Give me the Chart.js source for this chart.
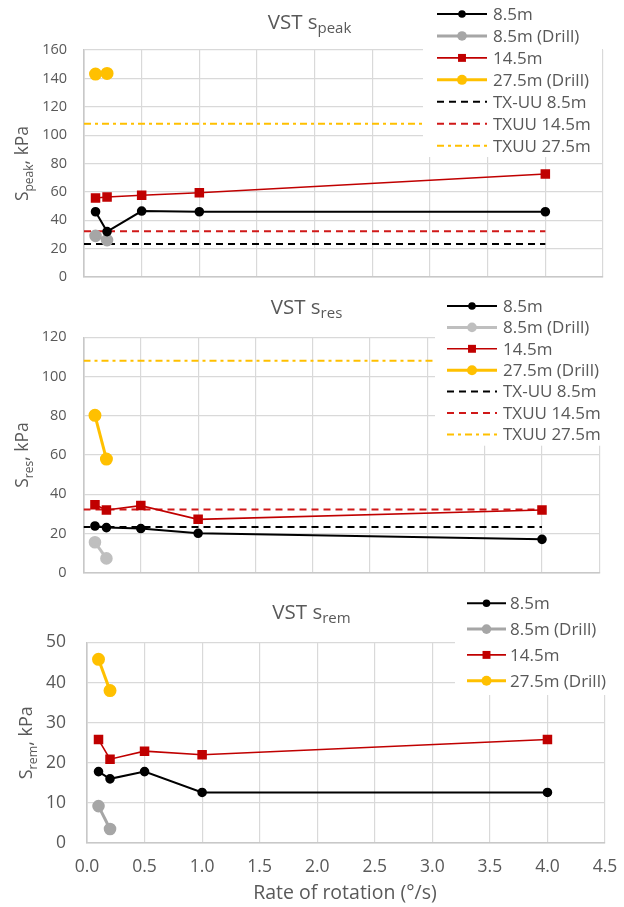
<!DOCTYPE html>
<html>
<head>
<meta charset="utf-8">
<script src="https://cdn.jsdelivr.net/npm/chart.js@4/dist/chart.umd.min.js"></script>
<style>
  html, body { margin: 0; padding: 0; background: #ffffff; }
  canvas.panel { position: absolute; left: 0; }
</style>
</head>
<body>
<canvas id="cPeak" class="panel" width="624" height="300" style="top:0px"></canvas>
<canvas id="cRes" class="panel" width="624" height="295" style="top:295px"></canvas>
<canvas id="cRem" class="panel" width="624" height="317" style="top:590px"></canvas>
<script>
// Rates of rotation (deg/s) used in the vane shear tests
const rotation = [0.1, 0.2, 0.5, 1.0, 4.0];
const rotationDrill = [0.1, 0.2];
const refSpan = [0, 4.0];
const xTickLabels = ['0.0', '0.5', '1.0', '1.5', '2.0', '2.5', '3.0', '3.5', '4.0', '4.5'];

// Triaxial UU reference strengths (kPa)
const txuu85 = 23.3;
const txuu145 = 32.2;
const txuu275 = 108;

// Peak strength (kPa)
const peak85 = [46, 32, 46.5, 46, 46];
const peak85Drill = [29, 26];
const peak145 = [55.7, 56.4, 57.6, 59.4, 72.6];
const peak275Drill = [143, 143.5];

// Residual strength (kPa)
const res85 = [23.8, 23.0, 22.5, 20.1, 17.0];
const res85Drill = [15.5, 7.3];
const res145 = [34.6, 32.0, 34.2, 27.2, 32.0];
const res275Drill = [80.2, 57.9];

// Remoulded strength (kPa)
const rem85 = [17.8, 16.0, 17.8, 12.6, 12.6];
const rem85Drill = [9.2, 3.5];
const rem145 = [25.8, 20.9, 22.9, 22.0, 25.8];
const rem275Drill = [45.8, 38.0];

const FONT = '"Open Sans", Lato, sans-serif';
const TEXT = '#595959';
const RED = '#c00000';
const GOLD = '#ffc000';
const CLEAR = 'rgba(0,0,0,0)';

const pts = (xs, ys) => xs.map((x, i) => ({ x: x, y: ys[i] }));
const flat = (v) => refSpan.map(x => ({ x: x, y: v }));

const sBlack = { borderColor: '#000000', backgroundColor: '#000000', borderWidth: 2, pointRadius: 3.8, pointStyle: 'circle' };
const sRed = { borderColor: RED, backgroundColor: RED, borderWidth: 1.6, pointRadius: 5.6, pointStyle: 'rect' };
const sGold = { borderColor: GOLD, backgroundColor: GOLD, borderWidth: 3, pointRadius: 5, pointStyle: 'circle' };
const sTx85 = { borderColor: '#000000', borderWidth: 2, borderDash: [7, 5], pointRadius: 0 };
const sTx145 = { borderColor: '#d01818', borderWidth: 2, borderDash: [7, 5], pointRadius: 0 };
const sTx275 = { borderColor: GOLD, borderWidth: 2, borderDash: [7, 4, 3, 4], pointRadius: 0 };

function seriesSet(a85, a85d, a145, a275d, greyColour, withRefs) {
  const sGrey = { borderColor: greyColour, backgroundColor: greyColour, borderWidth: 3, pointRadius: 4.8, pointStyle: 'circle' };
  const sets = [
    Object.assign({ label: '8.5m', data: pts(rotation, a85) }, sBlack),
    Object.assign({ label: '8.5m (Drill)', data: pts(rotationDrill, a85d) }, sGrey),
    Object.assign({ label: '14.5m', data: pts(rotation, a145) }, sRed),
    Object.assign({ label: '27.5m (Drill)', data: pts(rotationDrill, a275d) }, sGold)
  ];
  if (withRefs) {
    sets.push(Object.assign({ label: 'TX-UU 8.5m', data: flat(txuu85) }, sTx85));
    sets.push(Object.assign({ label: 'TXUU 14.5m', data: flat(txuu145) }, sTx145));
    sets.push(Object.assign({ label: 'TXUU 27.5m', data: flat(txuu275) }, sTx275));
  }
  return sets;
}

// Text made of normal and subscript runs, centred on (cx, cy)
function drawRuns(ctx, runs, cx, cy, big, small, drop) {
  let total = 0;
  const widths = runs.map(r => {
    ctx.font = (r[1] ? small : big) + 'px ' + FONT;
    const w = ctx.measureText(r[0]).width;
    total += w;
    return w;
  });
  let x = cx - total / 2;
  const base = cy + big * 0.36;
  ctx.textAlign = 'left';
  ctx.textBaseline = 'alphabetic';
  runs.forEach((r, i) => {
    ctx.font = (r[1] ? small : big) + 'px ' + FONT;
    ctx.fillText(r[0], x, r[1] ? base + drop : base);
    x += widths[i];
  });
}

function drawMarker(ctx, ds, x, y) {
  ctx.fillStyle = ds.backgroundColor;
  if (ds.pointStyle === 'rect') {
    const s = ds.pointRadius * Math.SQRT1_2;
    ctx.fillRect(x - s, y - s, 2 * s, 2 * s);
  } else {
    ctx.beginPath();
    ctx.arc(x, y, ds.pointRadius, 0, Math.PI * 2);
    ctx.fill();
  }
}

const panelDecor = {
  id: 'panelDecor',
  afterDraw(chart, args, o) {
    const ctx = chart.ctx;
    const area = chart.chartArea;
    ctx.save();
    // legend on a white box over the upper right of the plot
    ctx.fillStyle = '#ffffff';
    ctx.fillRect(o.box[0], o.box[1], o.box[2], o.box[3]);
    chart.data.datasets.forEach((ds, i) => {
      const y = o.legendTop + i * o.legendStep;
      ctx.strokeStyle = ds.borderColor;
      ctx.lineWidth = ds.borderWidth;
      ctx.setLineDash(ds.borderDash || []);
      ctx.beginPath();
      ctx.moveTo(o.sample[0], y);
      ctx.lineTo(o.sample[1], y);
      ctx.stroke();
      ctx.setLineDash([]);
      if (ds.pointRadius > 0) drawMarker(ctx, ds, (o.sample[0] + o.sample[1]) / 2, y);
      ctx.fillStyle = TEXT;
      ctx.font = o.legendSize + 'px ' + FONT;
      ctx.textAlign = 'left';
      ctx.textBaseline = 'middle';
      ctx.fillText(ds.label, o.textX, y + 1);
    });
    // chart title
    ctx.fillStyle = TEXT;
    drawRuns(ctx, o.title, o.titleX, o.titleY, o.titleSize, o.titleSub, 4);
    // y axis title
    ctx.save();
    ctx.translate(o.yTitleX, (area.top + area.bottom) / 2);
    ctx.rotate(-Math.PI / 2);
    drawRuns(ctx, o.yTitle, 0, 0, o.yTitleSize, o.yTitleSub, 5);
    ctx.restore();
    // x axis title
    if (o.xTitle) {
      ctx.font = o.xTitleSize + 'px ' + FONT;
      ctx.textAlign = 'center';
      ctx.textBaseline = 'middle';
      ctx.fillText(o.xTitle, o.xTitleX, o.xTitleY);
    }
    ctx.restore();
  }
};

function makeChart(id, datasets, cfg) {
  return new Chart(document.getElementById(id), {
    type: 'line',
    data: { datasets: datasets },
    plugins: [panelDecor],
    options: {
      responsive: false,
      animation: false,
      devicePixelRatio: 1,
      layout: { padding: { left: 0, right: cfg.padRight, top: cfg.padTop, bottom: 0 } },
      plugins: {
        legend: { display: false },
        tooltip: { enabled: false },
        panelDecor: cfg.decor
      },
      elements: { line: { tension: 0 } },
      scales: {
        x: {
          type: 'linear',
          min: 0, max: 4.5,
          afterFit: (s) => { s.height = cfg.xHeight; },
          // invisible tick marks set the gap between axis and labels
          grid: { color: '#d9d9d9', lineWidth: 1.2, drawTicks: true, tickLength: cfg.xTickGap, tickColor: CLEAR },
          border: { color: '#c8c8c8', width: 1.6 },
          ticks: {
            display: cfg.xTicks,
            stepSize: 0.5,
            padding: 0,
            color: TEXT,
            font: { family: FONT, size: cfg.tickSize },
            callback: (v) => xTickLabels[Math.round(v / 0.5)]
          }
        },
        y: {
          min: 0, max: cfg.yMax,
          afterFit: (s) => { s.width = cfg.yWidth; },
          grid: { color: '#d9d9d9', lineWidth: 1.2, drawTicks: true, tickLength: cfg.yTickGap, tickColor: CLEAR },
          border: { color: '#c8c8c8', width: 1.6 },
          ticks: {
            stepSize: cfg.yStep,
            padding: 0,
            color: TEXT,
            font: { family: FONT, size: cfg.tickSize }
          }
        }
      }
    }
  });
}

makeChart('cPeak', seriesSet(peak85, peak85Drill, peak145, peak275Drill, '#a6a6a6', true), {
  padRight: 21, padTop: 50, xHeight: 23, yWidth: 84, yMax: 160, yStep: 20,
  xTicks: false, xTickGap: 0, yTickGap: 17, tickSize: 14.5,
  decor: {
    box: [423, 0, 179, 157], legendTop: 14, legendStep: 21.95, sample: [437, 487], textX: 493, legendSize: 17,
    title: [['VST s', false], ['peak', true]], titleX: 309.5, titleY: 22, titleSize: 20.5, titleSub: 15,
    yTitle: [['S', false], ['peak', true], [', kPa', false]], yTitleX: 22, yTitleSize: 17.5, yTitleSub: 12
  }
});

makeChart('cRes', seriesSet(res85, res85Drill, res145, res275Drill, '#bfbfbf', true), {
  padRight: 24.7, padTop: 42.3, xHeight: 17.3, yWidth: 83.5, yMax: 120, yStep: 20,
  xTicks: false, xTickGap: 0, yTickGap: 17, tickSize: 14.5,
  decor: {
    box: [435, 0, 180, 150.7], legendTop: 11, legendStep: 21.4, sample: [447, 497], textX: 503, legendSize: 17,
    title: [['VST s', false], ['res', true]], titleX: 306.5, titleY: 11.3, titleSize: 20.5, titleSub: 15,
    yTitle: [['S', false], ['res', true], [', kPa', false]], yTitleX: 22, yTitleSize: 17.5, yTitleSub: 12
  }
});

makeChart('cRem', seriesSet(rem85, rem85Drill, rem145, rem275Drill, '#a6a6a6', false), {
  padRight: 19, padTop: 52.5, xHeight: 64, yWidth: 87, yMax: 50, yStep: 10,
  xTicks: true, xTickGap: 14, yTickGap: 21, tickSize: 17.5,
  decor: {
    box: [455, 0, 170, 105], legendTop: 13.3, legendStep: 25.8, sample: [467, 506], textX: 510, legendSize: 17,
    title: [['VST s', false], ['rem', true]], titleX: 311.5, titleY: 21.7, titleSize: 20.5, titleSub: 15,
    yTitle: [['S', false], ['rem', true], [', kPa', false]], yTitleX: 26, yTitleSize: 18, yTitleSub: 12.5,
    xTitle: 'Rate of rotation (°/s)', xTitleX: 345, xTitleY: 303, xTitleSize: 19.5
  }
});
</script>
</body>
</html>
